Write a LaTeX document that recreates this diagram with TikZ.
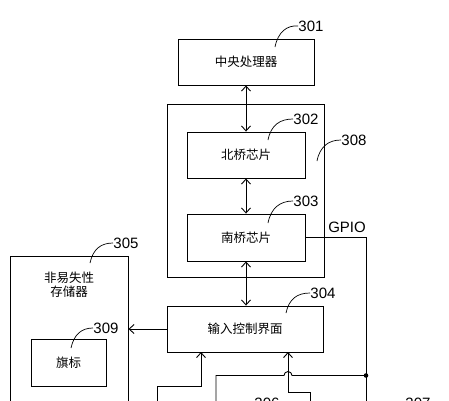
\documentclass[tikz,border=0pt]{standalone}
\usepackage{fontspec}
\setmainfont{Liberation Sans}
\newfontfamily\cjk{Noto Sans CJK SC}
\usetikzlibrary{arrows.meta}
\begin{document}
\begin{tikzpicture}[x=1pt,y=-1pt,
  line width=0.9pt,
  box/.style={draw,line width=0.9pt,minimum width=#1,inner sep=0pt},
  cjktext/.style={font=\cjk\fontsize{12.5}{13.5}\selectfont},
  lbl/.style={font=\fontsize{15}{15}\selectfont,inner sep=0pt,anchor=west},
  leader/.style={line width=0.7pt},
  arr/.style={-{Straight Barb[length=5pt,width=9pt]}},
  darr/.style={{Straight Barb[length=5pt,width=9pt]}-{Straight Barb[length=5pt,width=9pt]}}]
\useasboundingbox (0,0) rectangle (449,400);
% boxes
\node[box=136pt,minimum height=46pt,cjktext] (cpu) at (246,62) {中央处理器};
\node[box=157pt,minimum height=173pt] (grp) at (245.5,190.5) {};
\node[box=118pt,minimum height=46pt,cjktext] (nb) at (246,155) {北桥芯片};
\node[box=118pt,minimum height=47pt,cjktext] (sb) at (246,237.5) {南桥芯片};
\node[box=156pt,minimum height=46pt,cjktext] (ic) at (245,329) {输入控制界面};
\node[box=118pt,minimum height=164pt] (nv) at (69,338) {};
\node[cjktext,align=center,inner sep=0pt] (nvt) at (69,284.5) {非易失性\\存储器};
\node[box=75pt,minimum height=47pt,cjktext] (flag) at (68.5,362.5) {旗标};
% labels
\node[lbl] (l301) at (298,26) {301};
\node[lbl] (l302) at (293,119) {302};
\node[lbl] (l308) at (341,140) {308};
\node[lbl] (l303) at (293,201) {303};
\node[lbl] (l304) at (310,293) {304};
\node[lbl] (l305) at (113,243) {305};
\node[lbl] (l309) at (93,328) {309};
\node[lbl,anchor=center] (l306) at (267,403) {306};
\node[lbl,anchor=center] (l307) at (418,403) {307};
\node[lbl,anchor=center] (gpio) at (347,227) {GPIO};
% leaders
\draw[leader] (275,47) .. controls (278,32) and (287,25) .. (l301.west);
\draw[leader] (268,140) .. controls (271,125) and (280,119) .. (l302.west);
\draw[leader] (317,161) .. controls (320,146) and (329,140) .. (l308.west);
\draw[leader] (268,223) .. controls (271,208) and (280,201) .. (l303.west);
\draw[leader] (286,313) .. controls (289,299) and (297,293) .. (l304.west);
\draw[leader] (90,263) .. controls (93,249) and (101,243) .. (l305.west);
\draw[leader] (71,348) .. controls (74,334) and (82,328) .. (l309.west);
% main connectors
\draw[darr] (cpu.south) -- (nb.north);
\draw[darr] (nb.south) -- (sb.north);
\draw[darr] (sb.south) -- (sb.south |- ic.north);
\draw[arr] (ic.west) -- (ic.west -| nv.east);
% GPIO bus
\coordinate (gpioC) at (366,237.5);
\coordinate (gpioEnd) at (366,410);
\coordinate (junc) at (366,375.5);
\draw (sb.east) -- (gpioC) -- (gpioEnd);
\fill (junc) circle (2.3pt);
\coordinate (b306) at (216,410);
\draw (junc) -- (292,375.5) arc[start angle=0,end angle=180,radius=4pt] -- (216,375.5) -- (b306);
% lower connectors into input box
\coordinate (a1) at (157,410);
\draw[arr] (a1) |- (201,386.5) -- (201,352);
\coordinate (a2) at (310,410);
\draw[arr] (a2) |- (288,392.5) -- (288,352);
\end{tikzpicture}
\end{document}
